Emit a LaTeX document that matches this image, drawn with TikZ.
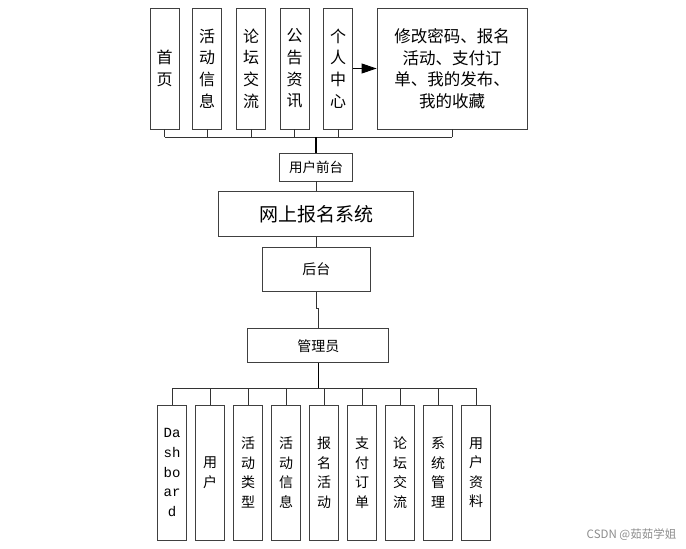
\documentclass[tikz,border=0pt]{standalone}
\usepackage{fontspec}
\setmainfont{Noto Sans CJK SC}
\newfontfamily\monofont{Liberation Mono}
\usetikzlibrary{arrows.meta, positioning, calc}

\begin{document}
\begin{tikzpicture}[x=1pt, y=-1pt,
  box/.style={draw=black!75, line width=0.9pt, inner sep=0pt, align=center},
  topbox/.style={box, minimum width=29pt, minimum height=121pt,
                 font=\fontsize{16}{21.7}\selectfont},
  lowbox/.style={box, minimum width=29pt, minimum height=135pt,
                 font=\fontsize{14}{19.5}\selectfont},
  link/.style={draw=black!80, line width=0.9pt},
  trunk/.style={draw=black, line width=1.3pt}]
\useasboundingbox (0,0) rectangle (686,549);
% 顶部:用户前台的功能
\node[topbox] (shouye) at (164.5,68.5) {首\\页};
\node[topbox] (huodong) at (207,68.5) {活\\动\\信\\息};
\node[topbox] (luntan) at (251,68.5) {论\\坛\\交\\流};
\node[topbox] (gonggao) at (294.5,68.5) {公\\告\\资\\讯};
\node[topbox] (geren) at (338,68.5) {个\\人\\中\\心};
\node[box, minimum width=150pt, minimum height=121pt, text width=140pt,
      font=\fontsize{16.5}{21.5}\selectfont] (gaimi) at (452,68.5)
      {修改密码、报名\\活动、支付订\\单、我的发布、\\我的收藏};
\draw[draw=black, line width=0.9pt, -{Triangle[length=15pt, width=10pt]}] (geren.east) -- (gaimi.west);
% 中间主干
\node[box, minimum width=73pt, minimum height=28pt, font=\fontsize{13.5}{16}\selectfont]
      (qiantai) at (316,167) {用户前台};
\node[box, minimum width=195pt, minimum height=45pt, font=\fontsize{19}{22}\selectfont]
      (xitong) at (316,214) {网上报名系统};
\node[box, minimum width=108pt, minimum height=44pt, font=\fontsize{14}{16}\selectfont]
      (houtai) at (316.3,269.5) {后台};
\node[box, minimum width=141pt, minimum height=34pt, font=\fontsize{14}{16}\selectfont]
      (admin) at (318.3,345.7) {管理员};
% 上方总线
\coordinate (tb) at (316,137);
\foreach \n in {shouye, huodong, luntan, gonggao, geren, gaimi}
  \draw[link] (\n.south) -- (\n.south |- tb);
\draw[link] (shouye.south |- tb) -- (gaimi.south |- tb);
\draw[trunk] (tb) -- (qiantai.north);
\draw[link] (qiantai.south) -- (qiantai.south |- xitong.north);
\draw[link] (xitong.south) -- (xitong.south |- houtai.north);
\draw[link] (houtai.south) -- ++(0,16.5) -| (admin.north);
% 下方:管理员的功能
\node[lowbox, font=\monofont\fontsize{14}{19.7}\selectfont] (dash) at (172,472.5) {Da\\sh\\bo\\ar\\d};
\node[lowbox] (yonghu) at (210,472.5) {用\\户};
\node[lowbox] (leixing) at (248,472.5) {活\\动\\类\\型};
\node[lowbox] (xinxi) at (286,472.5) {活\\动\\信\\息};
\node[lowbox] (baoming) at (324,472.5) {报\\名\\活\\动};
\node[lowbox] (dingdan) at (362,472.5) {支\\付\\订\\单};
\node[lowbox] (jiaoliu) at (400,472.5) {论\\坛\\交\\流};
\node[lowbox] (guanli) at (438,472.5) {系\\统\\管\\理};
\node[lowbox] (ziliao) at (476,472.5) {用\\户\\资\\料};
\coordinate (bb) at (318.3,388.3);
\draw[trunk] (admin.south) -- (bb);
\draw[link] (dash.north |- bb) -- (ziliao.north |- bb);
\foreach \n in {dash, yonghu, leixing, xinxi, baoming, dingdan, jiaoliu, guanli, ziliao}
  \draw[link] (\n.north |- bb) -- (\n.north);
% 水印
\node[text=black!45, font=\fontsize{11.5}{13}\selectfont] (mark) at (631.5,535) {CSDN @茹茹学姐};
\end{tikzpicture}
\end{document}
